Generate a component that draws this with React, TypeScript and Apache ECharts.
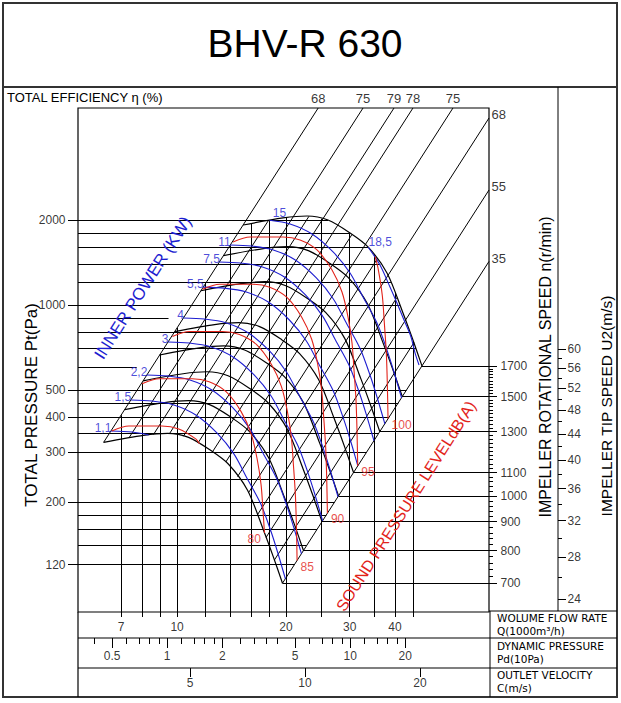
import React, { useEffect, useRef } from 'react';
import * as echarts from 'echarts';

type Pt = [number, number];

// ---------- axis ranges (log scales) ----------
const Q_MIN = 5.325, Q_MAX = 72.77;      // flow, 1000 m3/h
const P_MIN = 81.5, P_MAX = 4995;        // total pressure, Pa
const PD_MIN = 0.3256, PD_MAX = 57.35;   // dynamic pressure, 10 Pa
const C_MIN = 2.545, C_MAX = 30.31;      // outlet velocity, m/s
const U_MIN = 22.9, U_MAX = 145.2;       // tip speed, m/s

// ---------- ticks & grid ----------
const pressureTickLabels = [120, 200, 300, 400, 500, 1000, 2000];
const pressureGridLines = [2000, 1800, 1600, 1400, 1200, 1000, 900, 800, 700, 600, 500, 450, 400, 350, 300, 240, 200, 180, 160, 140, 120];
const leaderLines = [900, 600];
const flowGridLines = [7, 8, 9, 10, 12, 14, 16, 18, 20, 25, 30, 35, 40, 45];
const flowTickLabels = [7, 10, 20, 30, 40];
const dynMajor = [0.5, 1, 2, 5, 10, 20];
const dynMinor = [0.4, 0.6, 0.7, 0.8, 0.9, 1.2, 1.4, 1.6, 1.8, 2.5, 3, 3.5, 4, 6, 7, 8, 9, 12, 14, 16, 18];
const velTicks = [5, 10, 20];
const speedCurves = [700, 800, 900, 1000, 1100, 1300, 1500, 1700];
const speedTickLabels = [700, 800, 900, 1000, 1100, 1300, 1500, 1700];
const speedMinorStep = 20;
const tipMajor = [24, 28, 32, 36, 40, 44, 48, 52, 56, 60];
const tipMinor = [26, 30, 34, 38, 42, 46, 50, 54, 58];

// ---------- fan curve at base speed ----------
const baseSpeed = 1700;
const fanQ = [15.22, 19.63, 22.87, 26.13, 30.06, 33.7, 38.03, 42.1, 44.86, 47.5];
const fanP = [1921, 2035, 2068, 2001, 1800, 1606, 1299, 937, 751, 608];

// ---------- efficiency lines P = k*Q^2 ----------
const effLabels = ['68', '75', '79', '78', '75', '68', '55', '35'];
const effK = [8.29, 4.686, 3.159, 2.482, 1.492, 0.8694, 0.4829, 0.2695];
// unlabeled mesh lines inside the working area
const meshK = [6.23, 3.85, 1.92, 1.14, 0.648, 0.361];

// ---------- inner power lines (kW) ----------
const powerLabels = ['1,1', '1,5', '2,2', '3', '4', '5,5', '7,5', '11', '15'];
// flow ratio of each power line relative to the 15 kW line
const powerFlowRatio = [0.4209, 0.4776, 0.529, 0.6052, 0.6675, 0.7574, 0.8391, 0.8993, 1];
const powQ = [15.51, 17.84, 20.52, 23.6, 26.98, 30.06, 32.65, 35.68, 38.03, 39.76, 41.57, 42.64];
const powP = [2018, 2001, 1938, 1785, 1542, 1299, 1067, 863, 692, 578.6, 475.8, 424.4];
const power185Label = '18,5';
const pow185Q = [33.7, 36.37, 38.76, 40.52, 42.37, 44.3, 45.45, 46.62];
const pow185P = [1606, 1386, 1158, 1016, 885, 770, 676, 612.6];

// ---------- sound pressure level lines dB(A) ----------
const soundLevels = [75, 80, 85, 90, 95, 100];
const soundLabelPos = ['none', 'left', 'right', 'right', 'right', 'right'];
const baseSound = 95;
const soundFlowRatioPer5dB = 1.2127;
const sndQ = [14.28, 15.91, 19.63, 21.87, 24.36, 26.81, 28.56, 29.68, 30.44, 30.83, 31.22, 31.42, 31.6];
const sndP = [1672, 1742, 1742, 1700, 1567, 1331, 1112, 906, 733, 588, 460, 360, 250];

const L = Math.log10;
const lerpLog = (a: Pt, b: Pt, t: number): Pt => [
  10 ** (L(a[0]) + (L(b[0]) - L(a[0])) * t),
  10 ** (L(a[1]) + (L(b[1]) - L(a[1])) * t),
];
const scaled = (qs: number[], ps: number[], r: number): Pt[] => qs.map((q, i) => [q * r, ps[i] * r * r]);

function curveAt(c: Pt[], q: number): number | null {
  if (q < c[0][0] || q > c[c.length - 1][0]) return null;
  for (let i = 1; i < c.length; i++) {
    if (q <= c[i][0]) {
      const t = (L(q) - L(c[i - 1][0])) / (L(c[i][0]) - L(c[i - 1][0]));
      return 10 ** (L(c[i - 1][1]) + (L(c[i][1]) - L(c[i - 1][1])) * t);
    }
  }
  return null;
}

function buildOption() {
  const topArc = scaled(fanQ, fanP, 1);
  const botArc = scaled(fanQ, fanP, speedCurves[0] / baseSpeed);
  const K_L = effK[0];
  const K_R = effK[effK.length - 1];
  const endP = fanP[fanP.length - 1];

  const inside = ([q, p]: Pt) => {
    const k = p / (q * q);
    if (k > K_L * 1.0005 || k < K_R * 0.9995) return false;
    if (q > topArc[topArc.length - 1][0] * 1.0005 || q < botArc[0][0] * 0.9995) return false;
    const up = curveAt(topArc, q);
    if (up !== null && p > up * 1.0005) return false;
    const lo = curveAt(botArc, q);
    if (lo !== null && p < lo * 0.9995) return false;
    return true;
  };
  const crossing = (a: Pt, b: Pt): Pt => {
    let lo = 0, hi = 1;
    for (let i = 0; i < 40; i++) {
      const m = (lo + hi) / 2;
      if (inside(lerpLog(a, b, m))) lo = m; else hi = m;
    }
    return lerpLog(a, b, lo);
  };
  const clip = (pts: Pt[]): Pt[][] => {
    const segs: Pt[][] = [];
    let cur: Pt[] = [];
    for (let i = 0; i < pts.length; i++) {
      const b = pts[i];
      const ib = inside(b);
      if (i === 0) { if (ib) cur.push(b); continue; }
      const a = pts[i - 1];
      const ia = inside(a);
      if (ia && ib) cur.push(b);
      else if (ia && !ib) { cur.push(crossing(a, b)); if (cur.length > 1) segs.push(cur); cur = []; }
      else if (!ia && ib) { cur = [crossing(b, a), b]; }
    }
    if (cur.length > 1) segs.push(cur);
    return segs;
  };
  const arcHitK = (c: Pt[], k: number): Pt => {
    for (let i = 1; i < c.length; i++) {
      const k0 = c[i - 1][1] / c[i - 1][0] ** 2, k1 = c[i][1] / c[i][0] ** 2;
      if ((k0 - k) * (k1 - k) <= 0) {
        let lo = 0, hi = 1;
        for (let j = 0; j < 40; j++) {
          const m = (lo + hi) / 2;
          const p = lerpLog(c[i - 1], c[i], m);
          const km = p[1] / p[0] ** 2;
          if ((k0 - k) * (km - k) > 0) lo = m; else hi = m;
        }
        return lerpLog(c[i - 1], c[i], (lo + hi) / 2);
      }
    }
    return k > 1 ? c[0] : c[c.length - 1];
  };
  const topRightQ = (p: number): number | null => {
    let ip = 0;
    topArc.forEach((pt, i) => { if (pt[1] > topArc[ip][1]) ip = i; });
    for (let i = ip + 1; i < topArc.length; i++) {
      const a = topArc[i - 1], b = topArc[i];
      if (p <= a[1] && p >= b[1]) {
        const t = (L(p) - L(a[1])) / (L(b[1]) - L(a[1]));
        return 10 ** (L(a[0]) + (L(b[0]) - L(a[0])) * t);
      }
    }
    return null;
  };

  const series: any[] = [];
  const BLACK = '#000000';
  const BLUE = '#1d1dd0';
  const RED = '#e2231a';
  const FONT = 'Liberation Sans, Arial, sans-serif';

  const segs = (data: Pt[][], color: string, width: number, xi = 0, yi = 0, z = 3) => series.push({
    type: 'lines', coordinateSystem: 'cartesian2d', xAxisIndex: xi, yAxisIndex: yi, polyline: false,
    silent: true, z, animation: false,
    lineStyle: { color, width, opacity: 1, curveness: 0 },
    data: data.map((c) => ({ coords: c })),
  });
  const curve = (pts: Pt[], color: string, width: number, z = 4) => series.push({
    type: 'line', xAxisIndex: 0, yAxisIndex: 0, data: pts, symbol: 'none', smooth: 0.3, silent: true, z,
    lineStyle: { color, width }, clip: false, animation: false,
  });
  const labels = (items: any[], xi = 0, yi = 0) => series.push({
    type: 'scatter', xAxisIndex: xi, yAxisIndex: yi, symbolSize: 1, itemStyle: { color: 'rgba(0,0,0,0)' },
    silent: true, clip: false, z: 10, animation: false, data: items,
  });
  const lab = (value: Pt, text: string, position: string, color = '#000', fontSize = 12, distance = 2, offset: number[] = [0, 0], fontFamily = FONT) => ({
    value, label: { show: true, formatter: text, position, color, fontSize, distance, offset, fontFamily },
  });

  // ----- pressure grid lines -----
  const hLines: Pt[][] = [];
  pressureGridLines.forEach((p) => {
    let qEnd: number | null;
    if (leaderLines.includes(p)) qEnd = Math.sqrt(p / K_L) / 1.1;
    else if (p >= endP) qEnd = topRightQ(p);
    else qEnd = Math.sqrt(p / K_R);
    if (qEnd) hLines.push([[Q_MIN, p], [qEnd, p]]);
  });
  segs(hLines, BLACK, 1);

  // ----- flow grid lines -----
  const vLines: Pt[][] = flowGridLines.map((q) => {
    const up = curveAt(topArc, q);
    const top = Math.min(K_L * q * q, up === null ? Infinity : up);
    return [[q, P_MIN], [q, top]];
  });
  segs(vLines, BLACK, 1);

  // ----- speed lines -----
  const sLines: Pt[][] = speedCurves.map((n) => {
    const p = endP * (n / baseSpeed) ** 2;
    return [[Math.sqrt(p / K_R), p], [Q_MAX, p]];
  });
  segs(sLines, BLACK, 1);

  // ----- efficiency lines -----
  const eLines: Pt[][] = [];
  const eLabels: any[] = [];
  effK.forEach((k, i) => {
    const qt = Math.sqrt(P_MAX / k);
    const start: Pt = qt <= Q_MAX ? [qt, P_MAX] : [Q_MAX, k * Q_MAX * Q_MAX];
    eLines.push([start, arcHitK(botArc, k)]);
    if (qt <= Q_MAX) eLabels.push(lab(start, effLabels[i], 'top', '#000', 13, 3));
    else eLabels.push(lab(start, effLabels[i], 'right', '#000', 13, 2, [0, -3]));
  });
  meshK.forEach((k) => eLines.push([arcHitK(topArc, k), arcHitK(botArc, k)]));
  segs(eLines, BLACK, 1);
  labels(eLabels);

  // ----- fan curves -----
  speedCurves.forEach((n) => curve(scaled(fanQ, fanP, n / baseSpeed), BLACK, 1.2, 5));

  // ----- power lines -----
  const pLabs: any[] = [];
  powerFlowRatio.forEach((r, i) => {
    const parts = clip(scaled(powQ, powP, r));
    parts.forEach((s) => curve(s, BLUE, 1.1, 6));
    if (parts.length) {
      const isTop = i === powerFlowRatio.length - 1;
      pLabs.push(isTop
        ? lab(parts[0][0], powerLabels[i], 'top', BLUE, 12, 1, [10, 0])
        : lab(parts[0][0], powerLabels[i], 'left', BLUE, 12, 1, [2, -3]));
    }
  });
  const p185: Pt[] = pow185Q.map((q, i) => [q, pow185P[i]]);
  curve(p185, BLUE, 1.1, 6);
  pLabs.push(lab(p185[0], power185Label, 'right', BLUE, 12, 0, [0, -5]));
  labels(pLabs);

  // ----- sound lines -----
  const sLabs: any[] = [];
  soundLevels.forEach((db, i) => {
    const r = soundFlowRatioPer5dB ** ((db - baseSound) / 5);
    const parts = clip(scaled(sndQ, sndP, r));
    parts.forEach((s) => curve(s, RED, 1.1, 7));
    if (parts.length && soundLabelPos[i] !== 'none') {
      const last = parts[parts.length - 1];
      const pos = soundLabelPos[i];
      sLabs.push(lab(last[last.length - 1], String(db), pos, RED, 12, 3, [0, 6]));
    }
  });
  labels(sLabs);

  // ----- left pressure ticks (grid 1) -----
  segs(pressureTickLabels.map((p) => [[8, p], [18, p]] as Pt[]), BLACK, 1, 1, 1);
  labels(pressureTickLabels.map((p) => lab([7, p], String(p), 'left', '#000', 12, 1)), 1, 1);

  // ----- speed axis (grid 2) -----
  const spMaj: Pt[][] = [], spMin: Pt[][] = [];
  for (let n = speedTickLabels[0]; n <= speedTickLabels[speedTickLabels.length - 1]; n += speedMinorStep) {
    const p = endP * (n / baseSpeed) ** 2;
    if (speedTickLabels.includes(n)) spMaj.push([[0, p], [8, p]]); else spMin.push([[0, p], [4, p]]);
  }
  segs(spMaj, BLACK, 1, 2, 2);
  segs(spMin, BLACK, 1, 2, 2);
  labels(speedTickLabels.map((n) => lab([10, endP * (n / baseSpeed) ** 2], String(n), 'right', '#000', 12, 1)), 2, 2);

  // ----- tip speed axis (grid 3) -----
  segs(tipMajor.map((u) => [[0, u], [8, u]] as Pt[]), BLACK, 1, 3, 3);
  segs(tipMinor.map((u) => [[0, u], [4, u]] as Pt[]), BLACK, 1, 3, 3);
  labels(tipMajor.map((u) => lab([8, u], String(u), 'right', '#000', 12, 1)), 3, 3);

  // ----- bottom scales -----
  segs(flowGridLines.map((q) => [[q, 0], [q, 5]] as Pt[]), BLACK, 1, 4, 4);
  labels(flowTickLabels.map((q) => lab([q, 15], String(q), 'inside', '#000', 12, 0)), 4, 4);
  segs(dynMajor.map((v) => [[v, 0], [v, 10]] as Pt[]), BLACK, 1, 5, 5);
  segs(dynMinor.map((v) => [[v, 0], [v, 6]] as Pt[]), BLACK, 1, 5, 5);
  labels(dynMajor.map((v) => lab([v, 18], String(v), 'inside', '#000', 12, 0)), 5, 5);
  segs(velTicks.map((v) => [[v, 0], [v, 9]] as Pt[]), BLACK, 1, 6, 6);
  labels(velTicks.map((v) => lab([v, 15], String(v), 'inside', '#000', 12, 0)), 6, 6);

  const hid = { show: false };
  const logAx = (gridIndex: number, min: number, max: number) => ({ gridIndex, type: 'log', logBase: 10, min, max, ...hid });
  const valAx = (gridIndex: number, min: number, max: number, inverse = false) => ({ gridIndex, type: 'value', min, max, inverse, ...hid });

  const txt = (text: string, x: number, y: number, fontSize: number, opts: any = {}) => ({
    type: 'text', x, y, rotation: opts.rotation || 0, z: 50,
    style: {
      text, fill: opts.color || '#000', fontSize, fontFamily: opts.font || FONT,
      align: opts.align || 'center', verticalAlign: 'middle',
    },
  });
  const ln = (x1: number, y1: number, x2: number, y2: number, w = 1, c = '#000') => ({
    type: 'line', z: 40, shape: { x1, y1, x2, y2 }, style: { stroke: c, lineWidth: w },
  });
  const diag = Math.atan(1.567);
  const SMALL = 'DejaVu Sans, sans-serif';

  return {
    animation: false,
    backgroundColor: '#ffffff',
    grid: [
      { left: 78, top: 108, width: 411, height: 504 },
      { left: 60, top: 108, width: 18, height: 504 },
      { left: 489, top: 108, width: 14, height: 504 },
      { left: 558, top: 108, width: 14, height: 504 },
      { left: 78, top: 612, width: 411, height: 26 },
      { left: 78, top: 638, width: 411, height: 30 },
      { left: 78, top: 668, width: 411, height: 28 },
    ],
    xAxis: [
      logAx(0, Q_MIN, Q_MAX), valAx(1, 0, 18), valAx(2, 0, 14), valAx(3, 0, 14),
      logAx(4, Q_MIN, Q_MAX), logAx(5, PD_MIN, PD_MAX), logAx(6, C_MIN, C_MAX),
    ],
    yAxis: [
      logAx(0, P_MIN, P_MAX), logAx(1, P_MIN, P_MAX), logAx(2, P_MIN, P_MAX), logAx(3, U_MIN, U_MAX),
      valAx(4, 0, 26, true), valAx(5, 0, 30, true), valAx(6, 0, 28, true),
    ],
    series,
    graphic: [
      { type: 'rect', z: 40, shape: { x: 3, y: 3, width: 614, height: 694 }, style: { fill: 'none', stroke: '#333', lineWidth: 2 } },
      ln(3, 87, 617, 87, 2, '#333'),
      { type: 'rect', z: 40, shape: { x: 78, y: 108, width: 411, height: 504 }, style: { fill: 'none', stroke: '#000', lineWidth: 1.2 } },
      ln(558, 87, 558, 611, 1),
      ln(489, 611, 617, 611, 1),
      ln(78, 612, 78, 697, 1.2),
      ln(78, 638, 617, 638, 1.2),
      ln(78, 668, 617, 668, 1.2),
      ln(490, 611, 490, 697, 1),
      txt('BHV-R 630', 305, 43, 39),
      txt('TOTAL EFFICIENCY η (%)', 7, 97, 13, { align: 'left' }),
      txt('TOTAL PRESSURE Pt(Pa)', 31, 405, 17, { rotation: Math.PI / 2 }),
      txt('IMPELLER ROTATIONAL SPEED n(r/min)', 545, 367, 16, { rotation: Math.PI / 2 }),
      txt('IMPELLER TIP SPEED U2(m/s)', 606, 406, 15.5, { rotation: Math.PI / 2 }),
      txt('INNER POWER (KW)', 143, 288, 17, { rotation: diag, color: BLUE }),
      txt('SOUND PRESSURE LEVELdB(A)', 406, 506, 16, { rotation: diag, color: RED }),
      txt('WOLUME FLOW RATE', 497, 618, 10.5, { align: 'left', font: SMALL }),
      txt('Q(1000m³/h)', 497, 631, 10.5, { align: 'left', font: SMALL }),
      txt('DYNAMIC PRESSURE', 497, 646, 10.5, { align: 'left', font: SMALL }),
      txt('Pd(10Pa)', 497, 659, 10.5, { align: 'left', font: SMALL }),
      txt('OUTLET VELOCITY', 497, 675, 10.5, { align: 'left', font: SMALL }),
      txt('C(m/s)', 497, 688, 10.5, { align: 'left', font: SMALL }),
    ],
  };
}

export default function App() {
  const ref = useRef<HTMLDivElement>(null);
  useEffect(() => {
    if (!ref.current) return;
    const chart = echarts.init(ref.current, undefined, { renderer: 'svg', width: 621, height: 703 });
    chart.setOption(buildOption() as any);
    return () => chart.dispose();
  }, []);
  return (
    <div
      ref={ref}
      style={{ position: 'absolute', left: 0, top: 0, width: 621, height: 703, background: '#fff' }}
    />
  );
}
